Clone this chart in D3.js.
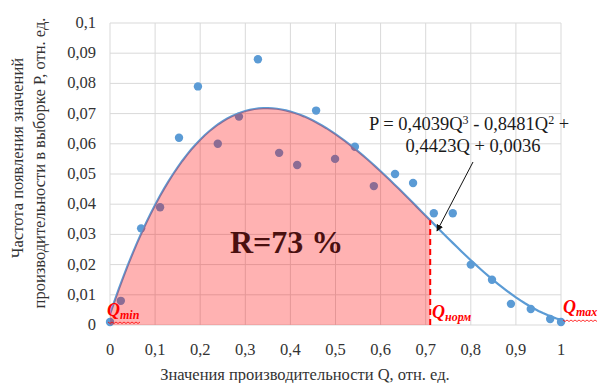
<!DOCTYPE html>
<html>
<head>
<meta charset="utf-8">
<script src="https://cdn.jsdelivr.net/npm/d3@7"></script>
<style>
  body { margin: 0; background: #fff; }
</style>
</head>
<body>
<svg id="chart" width="598" height="383"></svg>
<script>
// observed frequencies of productivity values
const qValues = [0, 0.024, 0.069, 0.111, 0.153, 0.195, 0.239, 0.286, 0.328, 0.375, 0.415, 0.457, 0.499,
  0.543, 0.585, 0.632, 0.672, 0.718, 0.760, 0.800, 0.847, 0.889, 0.933, 0.976, 1.0];
const pValues = [0.001, 0.008, 0.032, 0.039, 0.062, 0.079, 0.060, 0.069, 0.088, 0.057, 0.053, 0.071, 0.055,
  0.059, 0.046, 0.050, 0.047, 0.037, 0.037, 0.020, 0.015, 0.007, 0.0053, 0.002, 0.001];
// trend line coefficients as printed on the chart (Q^3, Q^2, Q, 1)
const trendCoef = [0.4039, -0.8481, 0.4423, 0.0036];
const qNorm = 0.71;
const xTicks = [0, 0.1, 0.2, 0.3, 0.4, 0.5, 0.6, 0.7, 0.8, 0.9, 1];
const yTicks = [0, 0.01, 0.02, 0.03, 0.04, 0.05, 0.06, 0.07, 0.08, 0.09, 1e-1];

const FONT = 'Liberation Serif';
const svg = d3.select('#chart');
const x = d3.scaleLinear().domain([0, 1]).range([110, 561]);
const y = d3.scaleLinear().domain([0, 0.1]).range([325, 23]);
const fmt = d => String(d).replace('.', ',');
const trend = q => ((trendCoef[0] * q + trendCoef[1]) * q + trendCoef[2]) * q + trendCoef[3];

function label(px, py, size, str) {
  return svg.append('text').attr('x', px).attr('y', py).attr('font-family', FONT)
    .attr('font-size', size).attr('fill', '#333').text(str);
}

// grid
svg.append('g').selectAll('line').data(xTicks).join('line')
  .attr('x1', d => x(d)).attr('x2', d => x(d)).attr('y1', y(0)).attr('y2', y(0.1))
  .attr('stroke', '#d9d9d9').attr('stroke-width', 1);
svg.append('g').selectAll('line').data(yTicks).join('line')
  .attr('x1', x(0)).attr('x2', x(1)).attr('y1', d => y(d)).attr('y2', d => y(d))
  .attr('stroke', '#d9d9d9').attr('stroke-width', 1);

// tick labels
yTicks.forEach(d => label(96, y(d) + 5, 16.5, fmt(d)).attr('text-anchor', 'end'));
xTicks.forEach(d => label(x(d), 355, 16.5, fmt(d)).attr('text-anchor', 'middle'));

// scatter
svg.append('g').selectAll('circle').data(qValues).join('circle')
  .attr('cx', d => x(d)).attr('cy', (d, i) => y(pValues[i])).attr('r', 4.2)
  .attr('fill', '#5b9bd5');

// trend line
const curveQ = d3.range(0, 1.0001, 0.01);
svg.append('path')
  .attr('d', d3.line().x(d => x(d)).y(d => y(trend(d)))(curveQ))
  .attr('fill', 'none').attr('stroke', '#5b9bd5').attr('stroke-width', 2.2);

// shaded area up to Q norm
const areaQ = d3.range(0, qNorm + 0.0001, 0.01);
svg.append('path')
  .attr('d', d3.area().x(d => x(d)).y0(y(0)).y1(d => y(trend(d)))(areaQ))
  .attr('fill', '#ff0000').attr('fill-opacity', 0.3);

// Q norm dashed line
svg.append('line')
  .attr('x1', x(qNorm)).attr('x2', x(qNorm)).attr('y1', y(0)).attr('y2', y(trend(qNorm)))
  .attr('stroke', '#ff0000').attr('stroke-width', 2).attr('stroke-dasharray', '6,4');

label(230, 253, 32, 'R=73 %').attr('font-weight', 'bold').attr('fill', '#4a1010');

// Q labels
function qLabel(px, py, sub) {
  const t = svg.append('text').attr('x', px).attr('y', py).attr('fill', '#ff0000')
    .attr('font-family', FONT).attr('font-weight', 'bold').attr('font-style', 'italic');
  t.append('tspan').attr('font-size', 18).text('Q');
  t.append('tspan').attr('font-size', 12).attr('dy', 3).text(sub);
}
qLabel(107, 316, 'min');
qLabel(432, 318, 'норм');
qLabel(563, 313, 'max');

// spellcheck squiggles
function squiggle(x0, x1, yy) {
  const pts = d3.range(x0, x1, 2).map((v, i) => [v, yy + (i % 2 ? 1.5 : 0)]);
  svg.append('path').attr('d', d3.line()(pts)).attr('fill', 'none')
    .attr('stroke', '#ff0000').attr('stroke-width', 0.8);
}
squiggle(108, 142, 322);
squiggle(563, 598, 320);

// equation
label(369, 130, 18.5, null).attr('fill', '#1a1a1a')
  .html('P = 0,4039Q<tspan font-size="12" dy="-6">3</tspan><tspan dy="6"> - 0,8481Q</tspan><tspan font-size="12" dy="-6">2</tspan><tspan dy="6"> +</tspan>');
label(473, 152, 18.5, '0,4423Q + 0,0036').attr('fill', '#1a1a1a').attr('text-anchor', 'middle');

// arrow to trend line
svg.append('defs').append('marker').attr('id', 'arr').attr('viewBox', '0 0 10 10')
  .attr('refX', 9).attr('refY', 5).attr('markerWidth', 7).attr('markerHeight', 7)
  .attr('orient', 'auto').append('path').attr('d', 'M0,0L10,5L0,10z').attr('fill', '#111');
svg.append('line').attr('x1', 473).attr('y1', 162).attr('x2', 437).attr('y2', 231)
  .attr('stroke', '#111').attr('stroke-width', 1).attr('marker-end', 'url(#arr)');

// axis titles
label(305, 380, 16.5, 'Значения производительности Q, отн. ед.').attr('text-anchor', 'middle');
label(0, 0, 16.5, 'Частота появления значений').attr('text-anchor', 'middle')
  .attr('transform', 'translate(23,158) rotate(-90)');
label(0, 0, 16.5, 'производительности в выборке P, отн. ед.').attr('text-anchor', 'middle')
  .attr('transform', 'translate(45,163) rotate(-90)');
</script>
</body>
</html>
